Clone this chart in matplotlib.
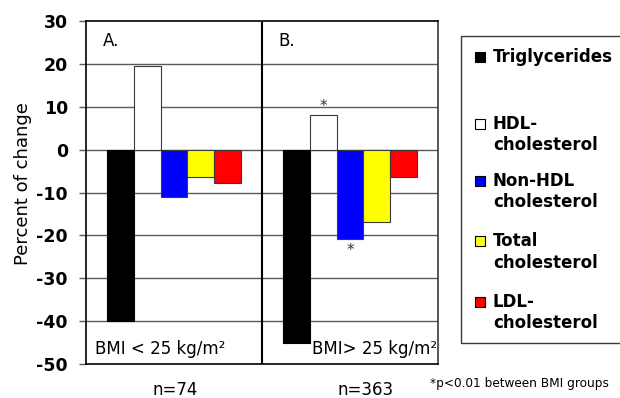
import matplotlib
matplotlib.use('Agg')
import matplotlib.pyplot as plt
from matplotlib.patches import Rectangle
import numpy as np

W, H = 620, 398

groups = ['BMI < 25 kg/m\u00b2', 'BMI> 25 kg/m\u00b2']
panel_tags = ['A.', 'B.']
n_labels = ['n=74', 'n=363']
series = ['Triglycerides', 'HDL-\ncholesterol', 'Non-HDL\ncholesterol',
          'Total\ncholesterol', 'LDL-\ncholesterol']
colors = ['#000000', '#ffffff', '#0000ff', '#ffff00', '#ff0000']
bmi_low = [-40.0, 19.5, -11.0, -6.5, -7.9]
bmi_high = [-45.0, 8.0, -20.8, -16.8, -6.5]
signif_high = [False, True, True, False, False]
yticks = [30, 20, 10, 0, -10, -20, -30, -40, -50]

def fx(px):
    return px / W

def fy(py):
    return 1 - py / H

fig = plt.figure(figsize=(6.2, 3.98), dpi=100)
ax = fig.add_axes([fx(86), fy(364.3), fx(438) - fx(86), fy(20.7) - fy(364.3)])

ax.set_xlim(-0.5, 1.5)
ax.set_ylim(-50, 30)

# grid lines behind the bars
for v in yticks[1:-1]:
    ax.axhline(v, color='#5a5a5a', lw=1.0, zorder=1)

w = 0.1534
xc = np.array([0.0, 1.0])
for i in range(len(series)):
    vals = [bmi_low[i], bmi_high[i]]
    ec = '#000000' if i == 0 else '#3a3a3a'
    ax.bar(xc + (i - 2) * w, vals, width=w, color=colors[i], edgecolor=ec,
           linewidth=0.8, zorder=3)

# significance marks
for i, s in enumerate(signif_high):
    if s:
        v = bmi_high[i]
        x = 1.0 + (i - 2) * w
        if v > 0:
            ax.text(x, v + 0.3, '*', ha='center', va='bottom', fontsize=11, color='#333333', zorder=4)
        else:
            ax.text(x, v - 1.0, '*', ha='center', va='top', fontsize=11, color='#333333', zorder=4)

# panel divider
ax.plot([0.5, 0.5], [-50, 29.4], color='black', lw=1.5, zorder=4)

ax.set_yticks(yticks)
ax.set_yticklabels([str(t) for t in yticks], fontweight='bold', fontsize=12.5)
ax.tick_params(axis='y', length=5, width=1, color='#5a5a5a', pad=8)
ax.set_xticks([])
for side in ['top', 'bottom', 'left']:
    ax.spines[side].set_color('black')
    ax.spines[side].set_linewidth(1.2)
ax.spines['right'].set_color('#3a3a3a')
ax.spines['right'].set_linewidth(1.2)

ax.text(0.047, 0.94, panel_tags[0], transform=ax.transAxes, fontsize=12, va='center')
ax.text(0.547, 0.94, panel_tags[1], transform=ax.transAxes, fontsize=12, va='center')
ax.text(-0.45, -48.5, groups[0], fontsize=12, ha='left', va='bottom')
ax.text(1.495, -48.5, groups[1], fontsize=12, ha='right', va='bottom')

fig.text(fx(23), fy(184), 'Percent of change', rotation=90, fontsize=13, ha='center', va='center')
fig.text(fx(175), fy(390), n_labels[0], fontsize=12, ha='center', va='center')
fig.text(fx(366), fy(390), n_labels[1], fontsize=12, ha='center', va='center')
fig.text(fx(430), fy(383), '*p<0.01 between BMI groups', fontsize=8.7, ha='left', va='center')

# legend box
fig.patches.append(Rectangle((fx(461), fy(343)), fx(640) - fx(461), fy(36) - fy(343),
                             transform=fig.transFigure, fill=False, edgecolor='#3a3a3a', lw=1.0))
leg_y = [57, 124, 181, 241, 302]
for i, lab in enumerate(series):
    y0 = leg_y[i]
    fig.patches.append(Rectangle((fx(475), fy(y0 + 5)), fx(485) - fx(475), fy(y0 - 5) - fy(y0 + 5),
                                 transform=fig.transFigure, facecolor=colors[i],
                                 edgecolor='#000000', lw=0.8))
    lines = lab.split('\n')
    for j, line in enumerate(lines):
        fig.text(fx(493), fy(y0 + 21.5 * j), line, fontsize=12, fontweight='bold',
                 ha='left', va='center')

fig.savefig('out.png', dpi=100)
